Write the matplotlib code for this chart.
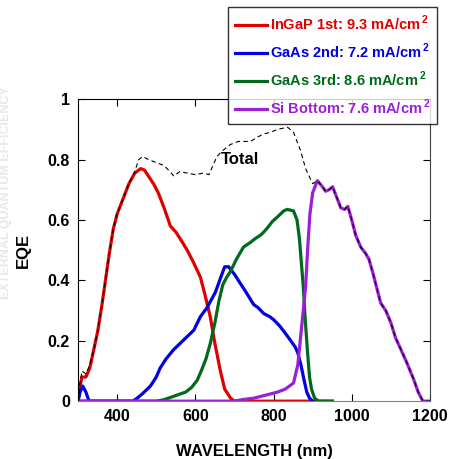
import matplotlib
matplotlib.use("Agg")
import matplotlib.pyplot as plt

plt.rcParams['font.family'] = ['Liberation Sans', 'DejaVu Sans']
plt.rcParams['font.weight'] = 'bold'
plt.rcParams['mathtext.fontset'] = 'custom'
plt.rcParams['mathtext.bf'] = 'Liberation Sans:bold'
plt.rcParams['mathtext.rm'] = 'Liberation Sans:bold'

# ---- data ----
red_x = [300, 305, 310, 320, 330, 340, 350, 360, 370, 380, 390, 400, 415, 430, 445, 460, 470, 480, 493, 505,
         520, 536, 550, 565, 579, 595, 613, 625, 638, 650, 664, 675, 690, 700, 950]
red_y = [0.0, 0.05, 0.08, 0.08, 0.11, 0.17, 0.23, 0.31, 0.40, 0.49, 0.57, 0.62, 0.67, 0.72, 0.755, 0.77, 0.765,
         0.745, 0.72, 0.69, 0.64, 0.58, 0.56, 0.53, 0.50, 0.46, 0.41, 0.35, 0.28, 0.19, 0.10, 0.04, 0.01, 0.0, 0.0]

blue_x = [300, 305, 312, 320, 328, 440, 451, 465, 485, 500, 510, 525, 544, 560, 580, 596, 613, 630, 651, 665,
          675, 685, 700, 715, 730, 749, 760, 775, 790, 800, 815, 830, 844, 855, 862, 870, 878, 885, 892, 900]
blue_y = [0.0, 0.03, 0.05, 0.03, 0.0, 0.0, 0.01, 0.025, 0.05, 0.08, 0.11, 0.14, 0.17, 0.19, 0.215, 0.235, 0.28,
          0.31, 0.36, 0.41, 0.445, 0.445, 0.42, 0.39, 0.36, 0.32, 0.31, 0.29, 0.28, 0.27, 0.25, 0.225, 0.20, 0.18,
          0.16, 0.12, 0.07, 0.03, 0.01, 0.0]

green_x = [300, 500, 520, 553, 575, 590, 605, 615, 627, 638, 650, 660, 670, 680, 690, 705, 723, 740, 755, 767,
           775, 785, 797, 810, 826, 835, 851, 860, 866, 871, 876, 881, 887, 892, 897, 905, 915, 950]
green_y = [0.0, 0.0, 0.005, 0.02, 0.03, 0.045, 0.07, 0.10, 0.14, 0.19, 0.26, 0.33, 0.385, 0.41, 0.43, 0.47, 0.51,
           0.525, 0.54, 0.55, 0.56, 0.575, 0.595, 0.61, 0.63, 0.635, 0.63, 0.60, 0.54, 0.46, 0.38, 0.27, 0.16,
           0.08, 0.04, 0.01, 0.0, 0.0]

purple_x = [300, 700, 720, 750, 780, 810, 830, 851, 862, 869, 876, 882, 887, 893, 900, 912, 925, 933, 942, 951,
            960, 972, 982, 990, 1000, 1010, 1023, 1035, 1044, 1055, 1065, 1074, 1087, 1100, 1112, 1126, 1140,
            1159, 1170, 1182, 1200]
purple_y = [0.0, 0.0, 0.005, 0.01, 0.02, 0.03, 0.04, 0.06, 0.12, 0.21, 0.30, 0.38, 0.50, 0.62, 0.69, 0.73, 0.71,
            0.695, 0.70, 0.71, 0.68, 0.64, 0.635, 0.645, 0.60, 0.55, 0.51, 0.49, 0.47, 0.42, 0.37, 0.325, 0.30,
            0.26, 0.21, 0.17, 0.13, 0.07, 0.03, 0.0, 0.0]

total_x = [300, 305, 310, 320, 330, 340, 350, 360, 370, 380, 390, 400, 415, 430, 445, 455, 465, 480, 500, 520,
           535, 545, 560, 580, 600, 620, 635, 645, 655, 670, 690, 710, 741, 760, 775, 792, 810, 836, 851, 869,
           882, 900, 912, 925, 933, 942, 951, 960, 972, 982, 990, 1000, 1010, 1023, 1035, 1044, 1055, 1065,
           1074, 1087, 1100, 1112, 1126, 1140, 1159, 1170, 1182, 1200]
total_y = [0.0, 0.06, 0.10, 0.09, 0.12, 0.17, 0.23, 0.31, 0.40, 0.49, 0.57, 0.62, 0.67, 0.72, 0.76, 0.80, 0.81,
           0.80, 0.79, 0.78, 0.76, 0.745, 0.76, 0.755, 0.75, 0.755, 0.75, 0.78, 0.81, 0.83, 0.85, 0.86, 0.86,
           0.875, 0.885, 0.89, 0.90, 0.907, 0.89, 0.83, 0.77, 0.72, 0.73, 0.71, 0.695, 0.70, 0.71, 0.68, 0.64,
           0.635, 0.645, 0.60, 0.55, 0.51, 0.49, 0.47, 0.42, 0.37, 0.325, 0.30, 0.26, 0.21, 0.17, 0.13, 0.07,
           0.03, 0.0, 0.0]

labels = ["InGaP 1st: 9.3 mA/cm$^{\\,\\mathbf{2}}$", "GaAs 2nd: 7.2 mA/cm$^{\\,\\mathbf{2}}$",
          "GaAs 3rd: 8.6 mA/cm$^{\\,\\mathbf{2}}$", "Si Bottom: 7.6 mA/cm$^{\\,\\mathbf{2}}$"]
colors = ["#e00000", "#0000e0", "#006a1a", "#9b1fd6"]

fig = plt.figure(figsize=(4.54, 4.59), dpi=100)
ax = fig.add_axes([0.172, 0.126, 0.775, 0.658])

ax.plot(total_x, total_y, color='black', lw=0.8, ls=(0, (4, 3)), zorder=3)
series = [(red_x, red_y), (blue_x, blue_y), (green_x, green_y), (purple_x, purple_y)]
handles = []
for (xs, ys), c, lab in zip(series, colors, labels):
    h, = ax.plot(xs, ys, color=c, lw=2.3, label=lab, zorder=2, solid_joinstyle='round')
    handles.append(h)

ax.text(664, 0.80, "Total", fontsize=12, fontweight='bold', va='center', ha='left')

ax.set_xlim(300, 1200)
ax.set_ylim(0, 1)
ax.set_xticks([400, 600, 800, 1000, 1200])
ax.set_yticks([0, 0.2, 0.4, 0.6, 0.8, 1])
ax.set_yticklabels(["0", "0.2", "0.4", "0.6", "0.8", "1"])
ax.tick_params(direction='in', length=5, width=0.8, labelsize=11.5, top=True, right=True, pad=6)
for lbl in ax.get_xticklabels() + ax.get_yticklabels():
    lbl.set_fontweight('bold')
ax.spines['bottom'].set_color('#808080')
ax.spines['right'].set_color('#404040')

ax.set_xlabel("WAVELENGTH (nm)", fontsize=12, fontweight='bold', labelpad=14)
ax.set_ylabel("EQE", fontsize=12, fontweight='bold', labelpad=12)

fig.text(0.013, 0.58, "EXTERNAL QUANTUM EFFICIENCY", rotation=90, fontsize=9, color='#e8e8e8',
         ha='center', va='center', fontweight='bold')

leg = fig.legend(handles=handles, loc='lower left', bbox_to_anchor=(228 / 454, 1 - 124 / 459),
                 fontsize=10.5, frameon=True, fancybox=False, edgecolor='black', handlelength=2.2,
                 handletextpad=0.25, labelspacing=0.6, borderpad=0.45, borderaxespad=0)
leg.get_frame().set_linewidth(1.0)
for t, c in zip(leg.get_texts(), colors):
    t.set_color(c)
    t.set_fontweight('bold')

fig.savefig("out.png", dpi=100)
